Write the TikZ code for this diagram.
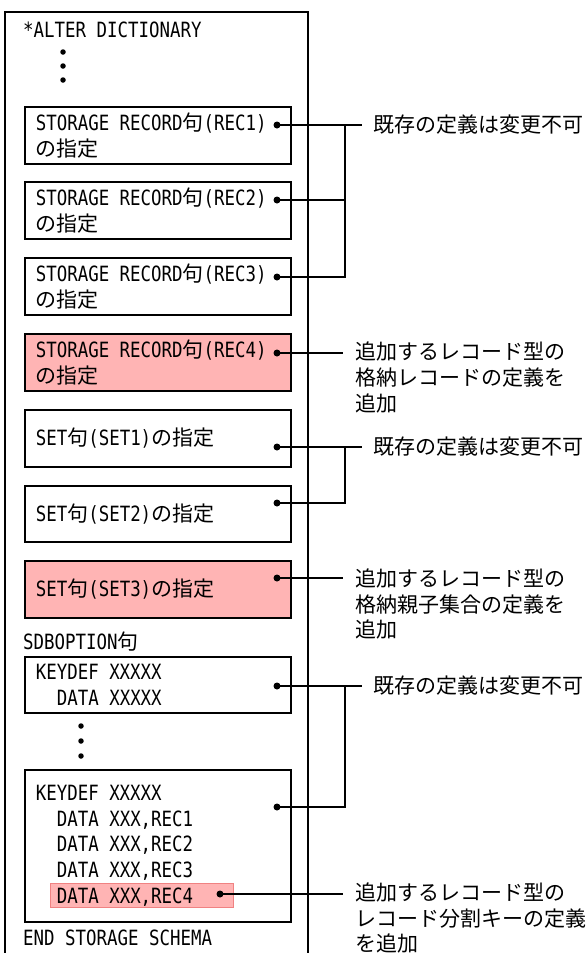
\documentclass[tikz,border=0pt]{standalone}
\usepackage{fontspec}
\setmainfont{Noto Sans CJK JP}
\newfontfamily\latfont[FakeStretch=0.83]{DejaVu Sans Mono}
\newcommand\La[1]{{\latfont #1}}
\newcommand\ms{\kern10.5pt\relax}
\newcommand\RaiseUp{\par\vspace*{6pt}}
\definecolor{pinkfill}{RGB}{255,180,180}
\definecolor{pinkedge}{RGB}{240,130,130}
\begin{document}
\begin{tikzpicture}[x=1pt,y=-1pt,
  every node/.style={font=\fontsize{21pt}{25.7pt}\selectfont},
  box/.style={draw, line width=1.6pt, minimum width=266pt, minimum height=57pt,
    inner xsep=11pt, inner ysep=0pt, text width=244pt, align=left, anchor=north west},
  addbox/.style={box, fill=pinkfill},
  hlbox/.style={draw=pinkedge, fill=pinkfill, line width=1pt, anchor=north west,
    minimum width=183pt, minimum height=24pt, inner sep=0pt},
  dot/.style={circle, fill=black, inner sep=0pt, minimum size=7pt},
  vdot/.style={circle, fill=black, inner sep=0pt, minimum size=5.5pt},
  txt/.style={anchor=west, inner sep=0pt, align=left},
  lab/.style={anchor=west, inner xsep=11pt, inner ysep=0pt},
  lab3/.style={anchor=west, inner sep=0pt, align=left},
  conn/.style={line width=1.5pt}]
\useasboundingbox (0,0) rectangle (588,953);
% outer frame
\draw[line width=1.6pt] (5,12) rectangle (308,975);
% header
\node[txt] (hdr) at (23,30) {\La{*ALTER\ms DICTIONARY}};
\node[vdot] (v1) at (63,52) {};
\node[vdot] (v2) at (63,66) {};
\node[vdot] (v3) at (63,80) {};
% boxes
\node[box] (r1) at (24,106) {\La{STORAGE\ms RECORD}句\La{(REC1)}\\の指定\RaiseUp};
\node[box] (r2) at (24,181) {\La{STORAGE\ms RECORD}句\La{(REC2)}\\の指定\RaiseUp};
\node[box] (r3) at (24,257) {\La{STORAGE\ms RECORD}句\La{(REC3)}\\の指定\RaiseUp};
\node[addbox] (r4) at (24,333) {\La{STORAGE\ms RECORD}句\La{(REC4)}\\の指定\RaiseUp};
\node[box] (s1) at (24,409) {\La{SET}句\La{(SET1)}の指定};
\node[box, minimum height=56pt] (s2) at (24,485) {\La{SET}句\La{(SET2)}の指定};
\node[addbox] (s3) at (24,560) {\La{SET}句\La{(SET3)}の指定};
\node[txt] (sdb) at (23,642) {\La{SDBOPTION}句};
\node[box, minimum height=56pt] (k1) at (24,656) {\La{KEYDEF\ms XXXXX}\\\hspace*{21pt}\La{DATA\ms XXXXX}};
\node[vdot] (v4) at (81,726) {};
\node[vdot] (v5) at (81,741) {};
\node[vdot] (v6) at (81,756) {};
\node[hlbox] (hl) at (50,883) {};
\node[box, minimum height=152pt] (k2) at (24,769) {\La{KEYDEF\ms XXXXX}\\
  \hspace*{21pt}\La{DATA\ms XXX,REC1}\\
  \hspace*{21pt}\La{DATA\ms XXX,REC2}\\
  \hspace*{21pt}\La{DATA\ms XXX,REC3}\\
  \hspace*{21pt}\La{DATA\ms XXX,REC4}};
\node[txt] (end) at (23,938) {\La{END\ms STORAGE\ms SCHEMA}};
% dots
\node[dot] (d1) at (277,125) {};
\node[dot] (d2) at (277,200) {};
\node[dot] (d3) at (277,277) {};
\node[dot] (d4) at (277,353) {};
\node[dot] (d5) at (277,447) {};
\node[dot] (d6) at (277,503) {};
\node[dot] (d7) at (277,578) {};
\node[dot] (d8) at (277,686) {};
\node[dot] (d9) at (277,807) {};
\node[dot] (d10) at (220,894) {};
% labels
\node[lab] (l1) at (362,125) {既存の定義は変更不可};
\node[lab3] (l4) at (355,377.5) {追加するレコード型の\\格納レコードの定義を\\追加};
\node[lab] (l5) at (362,447) {既存の定義は変更不可};
\node[lab3] (l7) at (355,604) {追加するレコード型の\\格納親子集合の定義を\\追加};
\node[lab] (l8) at (362,686) {既存の定義は変更不可};
\node[lab3] (l10) at (355,918) {追加するレコード型の\\レコード分割キーの定義\\を追加};
% junction coordinates
\coordinate (j1) at (345,125);
\coordinate (j5) at (345,447);
\coordinate (j8) at (345,686);
\coordinate (e4) at (343,353);
\coordinate (e7) at (343,578);
\coordinate (e10) at (343,894);
% connectors
\draw[conn] (d1.center) -- (l1.west);
\draw[conn] (d2.center) -| (j1);
\draw[conn] (d3.center) -| (j1);
\draw[conn] (d4.center) -- (e4);
\draw[conn] (d5.center) -- (l5.west);
\draw[conn] (d6.center) -| (j5);
\draw[conn] (d7.center) -- (e7);
\draw[conn] (d8.center) -- (l8.west);
\draw[conn] (d9.center) -| (j8);
\draw[conn] (d10.center) -- (e10);
\end{tikzpicture}
\end{document}
